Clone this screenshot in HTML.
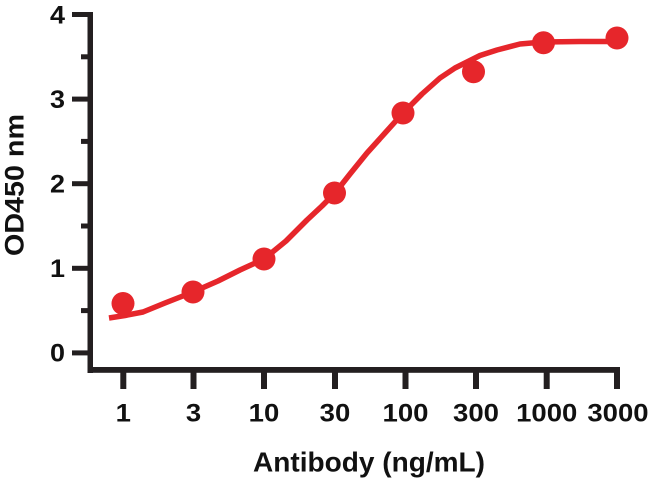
<!DOCTYPE html>
<html>
<head>
<meta charset="utf-8">
<style>
  html,body{margin:0;padding:0;background:#fff;}
  svg{display:block;}
  text{font-family:"Liberation Sans",Arial,sans-serif;font-weight:bold;fill:#111;}
</style>
</head>
<body>
<svg width="650" height="481" viewBox="0 0 650 481" xmlns="http://www.w3.org/2000/svg">
  <rect width="650" height="481" fill="#fff"/>
  <g fill="#231f20">
    <!-- Y axis -->
    <rect x="87.5" y="12" width="5.5" height="361"/>
    <!-- X axis -->
    <rect x="88" y="367" width="532" height="5.8"/>
    <!-- Y major ticks -->
    <rect x="72" y="12" width="18" height="5"/>
    <rect x="72" y="96.6" width="18" height="5"/>
    <rect x="72" y="181.2" width="18" height="5"/>
    <rect x="72" y="265.8" width="18" height="5"/>
    <rect x="72" y="350.4" width="18" height="5"/>
    <!-- Y minor ticks -->
    <rect x="81" y="54.3" width="9" height="5"/>
    <rect x="81" y="138.9" width="9" height="5"/>
    <rect x="81" y="223.5" width="9" height="5"/>
    <rect x="81" y="308.1" width="9" height="5"/>
    <!-- X ticks -->
    <rect x="120.3" y="370" width="6" height="19"/>
    <rect x="190.5" y="370" width="6" height="19"/>
    <rect x="261" y="370" width="6" height="19"/>
    <rect x="332" y="370" width="6" height="19"/>
    <rect x="402.5" y="370" width="6" height="19"/>
    <rect x="473" y="370" width="6" height="19"/>
    <rect x="543.7" y="370" width="6" height="19"/>
    <rect x="614" y="370" width="6" height="19"/>
  </g>

  <!-- Y tick labels -->
  <g font-size="25" text-anchor="end">
    <text x="65" y="23.5" textLength="15" lengthAdjust="spacingAndGlyphs">4</text>
    <text x="65" y="108" textLength="15" lengthAdjust="spacingAndGlyphs">3</text>
    <text x="65" y="192.5" textLength="15" lengthAdjust="spacingAndGlyphs">2</text>
    <text x="65" y="277" textLength="15" lengthAdjust="spacingAndGlyphs">1</text>
    <text x="65" y="361.5" textLength="15" lengthAdjust="spacingAndGlyphs">0</text>
  </g>

  <!-- X tick labels -->
  <g font-size="25" text-anchor="middle">
    <text x="123.3" y="421.7" textLength="15.3" lengthAdjust="spacingAndGlyphs">1</text>
    <text x="193.5" y="421.7" textLength="15.3" lengthAdjust="spacingAndGlyphs">3</text>
    <text x="264" y="421.7" textLength="30.6" lengthAdjust="spacingAndGlyphs">10</text>
    <text x="335" y="421.7" textLength="30.6" lengthAdjust="spacingAndGlyphs">30</text>
    <text x="405.5" y="421.7" textLength="46" lengthAdjust="spacingAndGlyphs">100</text>
    <text x="476" y="421.7" textLength="46" lengthAdjust="spacingAndGlyphs">300</text>
    <text x="546.7" y="421.7" textLength="61.2" lengthAdjust="spacingAndGlyphs">1000</text>
    <text x="618" y="421.7" textLength="61.2" lengthAdjust="spacingAndGlyphs">3000</text>
  </g>

  <!-- Axis titles -->
  <text x="369" y="471.7" font-size="28" text-anchor="middle" textLength="232" lengthAdjust="spacingAndGlyphs">Antibody (ng/mL)</text>
  <text transform="translate(23.5,185) rotate(-90)" x="0" y="0" font-size="27" text-anchor="middle" textLength="142" lengthAdjust="spacingAndGlyphs">OD450 nm</text>

  <!-- Fitted curve -->
  <polyline fill="none" stroke="#e6262b" stroke-width="5.5" stroke-linejoin="round" stroke-linecap="butt"
    points="109,318 125,315.5 143,312 165,303 193,292 218,281 240,270 264,259 286,241 307,220 322,206 335,193 350,174 367,153 385,133 403,113 422,94 440,78 455,68 467,62 480,55.5 497,50 520,44 543,42 580,41.5 617,41.5"/>

  <!-- Data points -->
  <g fill="#e6262b">
    <circle cx="123" cy="303.5" r="11.5"/>
    <circle cx="193" cy="292" r="11.5"/>
    <circle cx="264" cy="259" r="11.5"/>
    <circle cx="334.5" cy="193" r="11.5"/>
    <circle cx="403" cy="113" r="11.5"/>
    <circle cx="473.5" cy="71.7" r="11.5"/>
    <circle cx="543.5" cy="42.7" r="11.5"/>
    <circle cx="617" cy="38" r="11.5"/>
  </g>
</svg>
</body>
</html>
